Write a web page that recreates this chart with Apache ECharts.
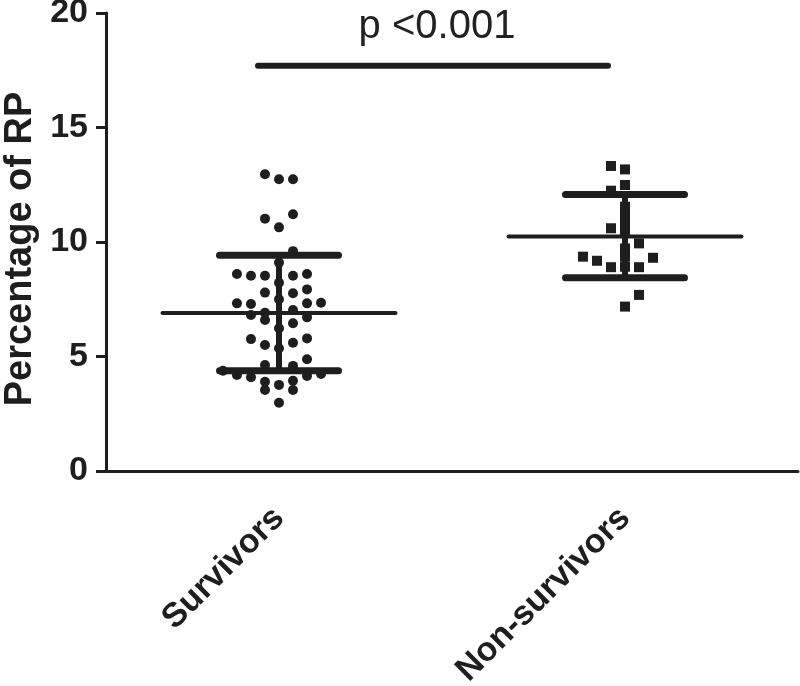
<!DOCTYPE html>
<html>
<head>
<meta charset="utf-8">
<script src="https://cdn.jsdelivr.net/npm/echarts@6/dist/echarts.min.js"></script>
<style>html,body{margin:0;padding:0;background:#fff}#c{width:800px;height:686px}</style>
</head>
<body>
<div id="c"></div>
<script>
const categories = ['Survivors', 'Non-survivors'];
const yMin = 0, yMax = 20, yInterval = 5;

// Survivors: value (%) and horizontal jitter column (slot)
const survivorValues = [12.96, 12.74, 12.74, 11.02, 11.21, 10.64, 9.6, 9.1,
  8.6, 8.53, 8.53, 8.53, 8.6, 8.22, 7.79, 7.76, 7.93,
  7.32, 7.29, 7.32, 7.35, 7.5, 6.81, 6.91, 6.59, 7.03, 6.71, 6.45, 6.23,
  5.76, 5.5, 5.6, 5.79, 5.36, 4.88, 4.63, 4.59,
  4.38, 4.19, 4.09, 4.15, 4.24, 3.9, 3.76, 3.94, 3.54, 3.54, 2.98];
const survivorSlots = [-1, 0, 1, -1, 1, 0, 1, 0,
  -3, -2, -1, 1, 2, 0, -1, 1, 2,
  -3, -2, 2, 3, 0, -2, -1, -1, 1, 2, 1, 0,
  -2, -1, 1, 2, 0, 2, -1, 1,
  -4, -3, -2, 2, 3, -1, 0, 1, -1, 1, 0];

// Non-survivors
const nonSurvivorValues = [13.32, 13.17, 12.49, 12.24, 11.54, 11.18, 10.82, 10.45,
  10.6, 9.94, 9.72, 9.36, 9.36, 9.18, 9.31, 8.9, 8.9, 8.92, 7.69, 7.18];
const nonSurvivorSlots = [-1, 0, 0, -1, 0, 0, 0, 0,
  -1, 1, 0, 0, -3, -2, 2, -1, 1, 0, 1, 0];

// Mean and SD bounds per group
const groupMeans = [6.9, 10.24];
const groupSdLow = [4.38, 8.44];
const groupSdHigh = [9.42, 12.07];

// Significance annotation
const pText = 'p <0.001';
const pBarValue = 17.7;
const pTextValue = 19.4;

const INK = '#1e1e1e';
const SLOT = 0.0405; // jitter column width in value-axis units

function toPoints(groupIndex, values, slots) {
  return values.map((v, i) => [groupIndex + 0.5 + slots[i] * SLOT, v]);
}

const chart = echarts.init(document.getElementById('c'), null, { renderer: 'canvas' });

const errData = categories.map((c, i) => [i, groupMeans[i], groupSdLow[i], groupSdHigh[i]]);

chart.setOption({
  animation: false,
  backgroundColor: '#ffffff',
  grid: { left: 106, right: 2, top: 13, bottom: 215, containLabel: false, outerBoundsMode: 'none' },
  xAxis: [
    {
      type: 'category',
      data: categories,
      boundaryGap: true,
      axisLine: { lineStyle: { color: INK, width: 3 } },
      axisTick: { alignWithLabel: true, length: 15, lineStyle: { color: INK, width: 3 } },
      axisLabel: {
        rotate: 45, margin: 42, color: INK,
        fontFamily: 'Liberation Sans, Arial, sans-serif', fontWeight: 'bold', fontSize: 34
      },
      splitLine: { show: false }
    },
    {
      type: 'value', min: 0, max: 2, show: false
    }
  ],
  yAxis: {
    type: 'value', min: yMin, max: yMax, interval: yInterval,
    name: 'Percentage of RP', nameLocation: 'middle', nameRotate: 90, nameGap: 62,
    nameTextStyle: { color: INK, fontFamily: 'Liberation Sans, Arial, sans-serif', fontWeight: 'bold', fontSize: 38, padding: [0, 14, 0, 0] },
    axisLine: { show: true, lineStyle: { color: INK, width: 3 } },
    axisTick: { show: true, length: 10, lineStyle: { color: INK, width: 3 } },
    axisLabel: { margin: 18, color: INK, fontFamily: 'Liberation Sans, Arial, sans-serif', fontWeight: 'bold', fontSize: 34 },
    splitLine: { show: false }
  },
  series: [
    {
      type: 'scatter', xAxisIndex: 1, symbol: 'circle', symbolSize: 10,
      itemStyle: { color: INK, opacity: 1 }, data: toPoints(0, survivorValues, survivorSlots)
    },
    {
      type: 'scatter', xAxisIndex: 1, symbol: 'rect', symbolSize: 10,
      itemStyle: { color: INK, opacity: 1 }, data: toPoints(1, nonSurvivorValues, nonSurvivorSlots)
    },
    {
      type: 'custom', xAxisIndex: 0, yAxisIndex: 0, z: 5,
      data: errData,
      encode: { x: 0, y: [1, 2, 3] },
      renderItem: function (params, api) {
        const c = api.value(0);
        const m = api.coord([c, api.value(1)]);
        const lo = api.coord([c, api.value(2)]);
        const hi = api.coord([c, api.value(3)]);
        const meanHalf = 116.5, capHalf = 59.5;
        return {
          type: 'group',
          children: [
            { type: 'line', shape: { x1: m[0] - meanHalf, y1: m[1], x2: m[0] + meanHalf, y2: m[1] },
              style: { stroke: INK, lineWidth: 4, lineCap: 'round' } },
            { type: 'line', shape: { x1: lo[0], y1: lo[1], x2: hi[0], y2: hi[1] },
              style: { stroke: INK, lineWidth: 6 } },
            { type: 'line', shape: { x1: hi[0] - capHalf, y1: hi[1], x2: hi[0] + capHalf, y2: hi[1] },
              style: { stroke: INK, lineWidth: 7, lineCap: 'round' } },
            { type: 'line', shape: { x1: lo[0] - capHalf, y1: lo[1], x2: lo[0] + capHalf, y2: lo[1] },
              style: { stroke: INK, lineWidth: 7, lineCap: 'round' } }
          ]
        };
      }
    },
    {
      type: 'custom', xAxisIndex: 0, yAxisIndex: 0, z: 5,
      data: [[0, pBarValue, pTextValue]],
      encode: { x: 0, y: [1, 2] },
      renderItem: function (params, api) {
        const a = api.coord([0, api.value(1)]);
        const b = api.coord([1, api.value(1)]);
        const t = api.coord([0, api.value(2)]);
        const midX = (a[0] + b[0]) / 2;
        return {
          type: 'group',
          children: [
            { type: 'line', shape: { x1: a[0] - 21, y1: a[1], x2: b[0] - 17, y2: b[1] },
              style: { stroke: INK, lineWidth: 6, lineCap: 'round' } },
            { type: 'text', x: midX - 15, y: t[1],
              style: { text: pText, fill: '#222', font: '40px "Liberation Sans", Arial, sans-serif',
                align: 'center', verticalAlign: 'middle' } }
          ]
        };
      }
    }
  ]
});
</script>
</body>
</html>
